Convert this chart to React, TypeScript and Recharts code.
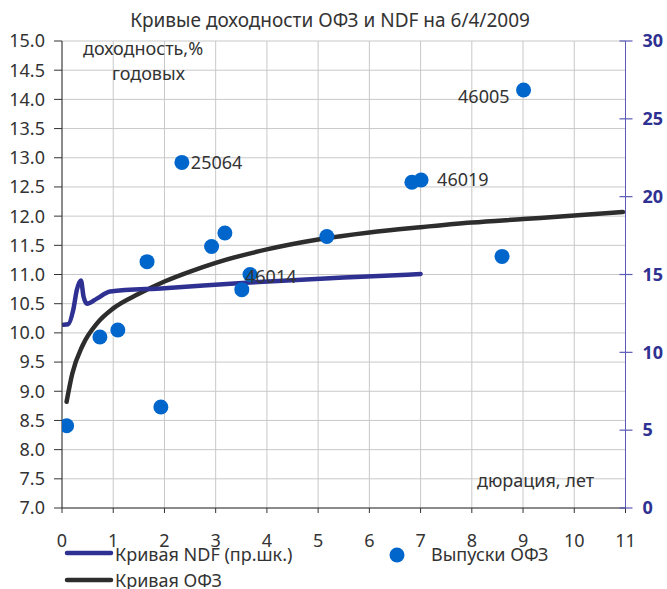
import React from 'react';
import { ComposedChart, Line, Scatter, XAxis, YAxis, CartesianGrid } from 'recharts';

// ---- Data ----
const xTicks = [0, 1, 2, 3, 4, 5, 6, 7, 8, 9, 10, 11];
const leftTicks = [7.0, 7.5, 8.0, 8.5, 9.0, 9.5, 10.0, 10.5, 11.0, 11.5, 12.0, 12.5, 13.0, 13.5, 14.0, 14.5, 15.0];
const rightTicks = [0, 5, 10, 15, 20, 25, 30];

// Выпуски ОФЗ (duration, yield, label)
const bondDurations = [0.09, 0.74, 1.09, 1.93, 1.66, 2.34, 2.92, 3.18, 3.51, 3.67, 5.17, 6.83, 7.01, 9.01, 8.59];
const bondYields = [8.41, 9.93, 10.05, 8.73, 11.22, 12.92, 11.48, 11.71, 10.74, 11.0, 11.65, 12.58, 12.62, 14.16, 11.31];
const bondLabels = ['', '', '', '', '', '25064', '', '', '', '46014', '', '', '46019', '46005', ''];

// Кривая ОФЗ (left axis)
const ofzX = [0.09, 0.2, 0.4, 0.7, 1.0, 1.5, 2.0, 2.5, 3.0, 4.0, 5.0, 6.0, 7.0, 8.0, 9.0, 10.0, 10.95];
const ofzY = [8.82, 9.3, 9.78, 10.18, 10.42, 10.67, 10.88, 11.05, 11.2, 11.43, 11.6, 11.72, 11.81, 11.89, 11.95, 12.01, 12.07];

// Кривая NDF (right axis)
const ndfX = [0.03, 0.12, 0.22, 0.29, 0.37, 0.42, 0.49, 0.68, 0.94, 2.0, 3.67, 5.5, 7.0];
const ndfY = [11.77, 11.8, 12.73, 14.02, 14.62, 13.59, 13.12, 13.45, 13.91, 14.12, 14.49, 14.8, 15.03];

const bondData = bondDurations.map((x, i) => ({ x, y: bondYields[i], label: bondLabels[i] }));
const ofzData = ofzX.map((x, i) => ({ x, ofz: ofzY[i] }));
const ndfData = ndfX.map((x, i) => ({ x, ndf: ndfY[i] }));

// ---- Styles ----
const FONT = '"Noto Sans", "Open Sans", sans-serif';
const TEXT = '#333333';
const BLUE_DOT = '#0066cc';
const NDF_COLOR = '#2e3192';
const OFZ_COLOR = '#2d2d2d';
const RIGHT_AXIS = '#5b5bb5';

const labelPlacement: Record<string, { dx: number; dy: number; anchor: 'start' | 'end' }> = {
  '25064': { dx: 9, dy: 0, anchor: 'start' },
  '46014': { dx: -5, dy: 2, anchor: 'start' },
  '46019': { dx: 16, dy: 0, anchor: 'start' },
  '46005': { dx: -14, dy: 7, anchor: 'end' },
};

const BondShape = (props: any) => {
  const { cx, cy, payload } = props;
  if (cx == null || cy == null) return null;
  const lbl = payload && payload.label;
  const pl = lbl ? labelPlacement[lbl] : null;
  return (
    <g>
      <circle cx={cx} cy={cy} r={7.5} fill={BLUE_DOT} />
      {lbl && pl ? (
        <text
          x={cx + pl.dx}
          y={cy + pl.dy}
          dy="0.35em"
          textAnchor={pl.anchor}
          fontSize={18}
          fontFamily={FONT}
          fill={TEXT}
        >
          {lbl}
        </text>
      ) : null}
    </g>
  );
};

const RightTick = (props: any) => {
  const { x, y, payload } = props;
  const axisX = x - 7 - 10;
  return (
    <g>
      <line x1={axisX - 6} x2={axisX + 7} y1={y} y2={y} stroke={RIGHT_AXIS} strokeWidth={1.2} />
      <text x={x} y={y} dy="0.35em" textAnchor="start" fontSize={18} fontWeight="bold" fontFamily={FONT} fill={NDF_COLOR}>
        {payload.value}
      </text>
    </g>
  );
};

export default function App() {
  return (
    <div style={{ position: 'absolute', left: 0, top: 0, width: 667, height: 589, background: '#ffffff' }}>
      <ComposedChart
        width={667}
        height={589}
        margin={{ top: 41, right: 0, bottom: 51, left: 0 }}
        style={{ fontFamily: FONT }}
      >
        <CartesianGrid yAxisId="left" stroke="#c8c8c8" strokeWidth={1} />
        <XAxis
          dataKey="x"
          type="number"
          domain={[0, 11]}
          ticks={xTicks}
          allowDataOverflow
          height={30}
          stroke={TEXT}
          tickSize={5}
          tickMargin={21}
          tick={{ fill: TEXT, fontSize: 18, fontFamily: FONT }}
        />
        <YAxis
          yAxisId="left"
          orientation="left"
          type="number"
          domain={[7, 15]}
          ticks={leftTicks}
          allowDataOverflow
          width={62}
          stroke={TEXT}
          tickSize={8}
          tickMargin={9}
          tickFormatter={(v: number) => v.toFixed(1)}
          tick={{ fill: TEXT, fontSize: 18, fontFamily: FONT }}
        />
        <YAxis
          yAxisId="right"
          orientation="right"
          type="number"
          domain={[0, 30]}
          ticks={rightTicks}
          allowDataOverflow
          width={41.5}
          stroke={RIGHT_AXIS}
          tickSize={7}
          tickMargin={10}
          tickLine={false}
          tick={<RightTick />}
        />
        <Line
          yAxisId="left"
          data={ofzData}
          dataKey="ofz"
          type="monotone"
          stroke={OFZ_COLOR}
          strokeWidth={4.5}
          strokeLinecap="round"
          dot={false}
          activeDot={false}
          isAnimationActive={false}
        />
        <Line
          yAxisId="right"
          data={ndfData}
          dataKey="ndf"
          type="monotone"
          stroke={NDF_COLOR}
          strokeWidth={4.5}
          strokeLinecap="round"
          dot={false}
          activeDot={false}
          isAnimationActive={false}
        />
        <Scatter
          yAxisId="left"
          data={bondData}
          dataKey="y"
          fill={BLUE_DOT}
          shape={<BondShape />}
          isAnimationActive={false}
        />
      </ComposedChart>
      <svg
        width={667}
        height={589}
        style={{ position: 'absolute', left: 0, top: 0, pointerEvents: 'none' }}
      >
        <g fontFamily={FONT} fill={TEXT}>
          <text x={330} y={27} textAnchor="middle" fontSize={19}>
            Кривые доходности ОФЗ и NDF на 6/4/2009
          </text>
          <text x={83} y={55} fontSize={18}>доходность,%</text>
          <text x={112} y={80} fontSize={18}>годовых</text>
          <text x={477} y={487} fontSize={18}>дюрация, лет</text>
          {/* Legend */}
          <line x1={67} x2={111} y1={553} y2={553} stroke={NDF_COLOR} strokeWidth={4.5} strokeLinecap="round" />
          <text x={115} y={561} fontSize={18}>Кривая NDF (пр.шк.)</text>
          <circle cx={397} cy={555} r={7.5} fill={BLUE_DOT} />
          <text x={431} y={561} fontSize={18}>Выпуски ОФЗ</text>
          <line x1={67} x2={111} y1={580} y2={580} stroke={OFZ_COLOR} strokeWidth={4.5} strokeLinecap="round" />
          <text x={115} y={587} fontSize={18}>Кривая ОФЗ</text>
        </g>
      </svg>
    </div>
  );
}
